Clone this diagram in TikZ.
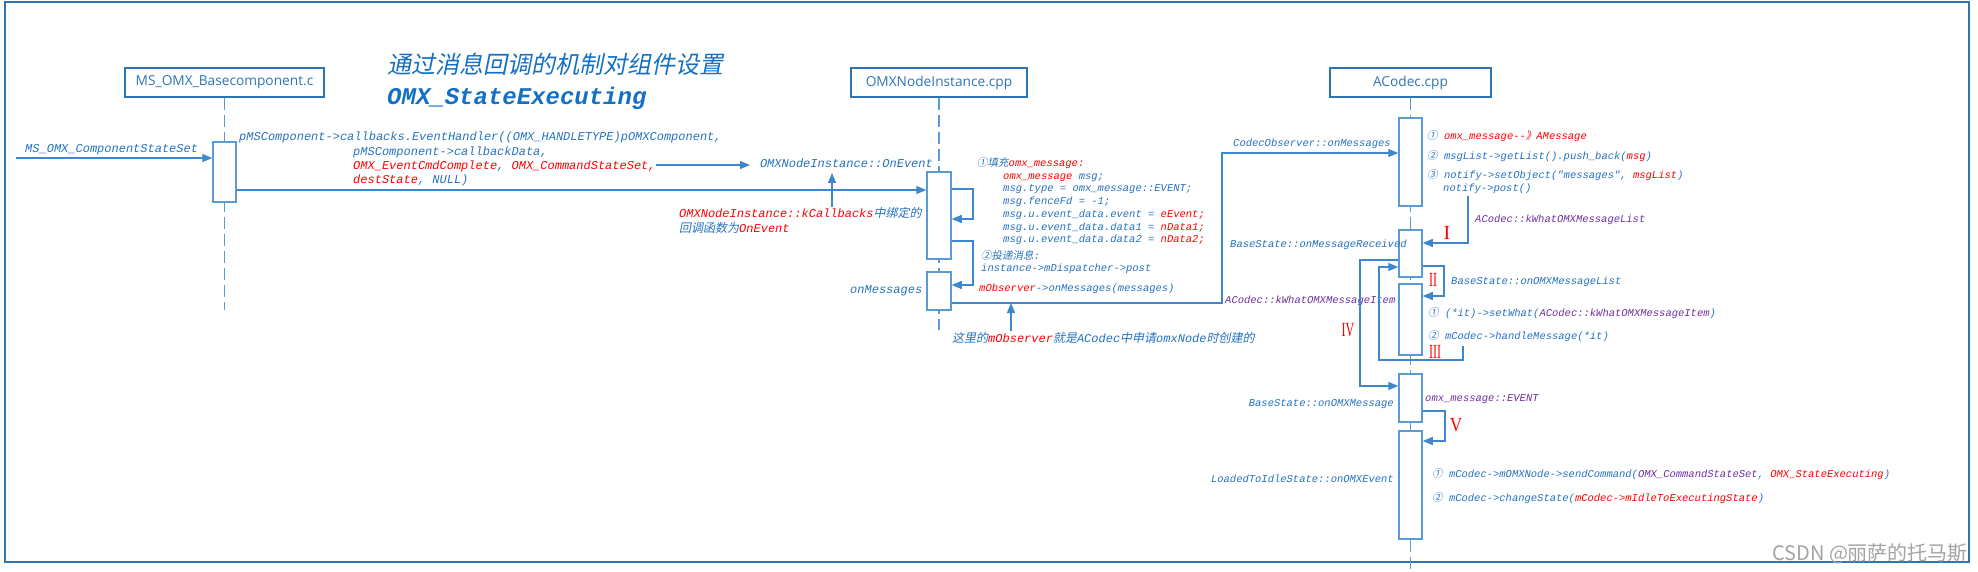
\documentclass[tikz,border=0pt]{standalone}
\usepackage{fontspec}
\usepackage{graphicx}
\setmainfont{Liberation Sans}
\newfontfamily\monof{Liberation Mono}
\newfontfamily\cjkf{Noto Sans CJK SC}
\newfontfamily\cjkif{Noto Sans CJK SC}[FakeSlant=0.2]
\newfontfamily\hdrf{Open Sans}
\newfontfamily\romf{Liberation Serif}
\usetikzlibrary{arrows.meta}
\definecolor{frameblue}{HTML}{2E75B6}
\definecolor{lineblue}{HTML}{3C87CD}
\definecolor{lightblue}{HTML}{5B9BD5}
\definecolor{codeblue}{HTML}{2472C0}
\definecolor{titleblue}{HTML}{1570C4}
\definecolor{cred}{HTML}{FF0000}
\definecolor{cpurple}{HTML}{7030A0}
\definecolor{wmgray}{HTML}{A3A3A3}
\newcommand{\smallcode}{\monof\itshape\fontsize{10.5}{12}\selectfont}
\newcommand{\bigcode}{\monof\itshape\fontsize{12}{14}\selectfont}
\newcommand{\zhtxt}[1]{{\cjkif #1}}
\newcommand{\redtxt}[1]{\textcolor{cred}{#1}}
\newcommand{\purtxt}[1]{\textcolor{cpurple}{#1}}
\tikzset{
  hdr/.style={draw=frameblue, line width=1.3pt, text=frameblue, font=\hdrf\fontsize{13.7}{16}\selectfont, inner sep=0pt},
  life/.style={draw=lightblue, line width=1.8pt, dash pattern=on 12pt off 5pt},
  act/.style={draw=lightblue, line width=1.5pt, fill=white, inner sep=0pt, minimum width=23pt},
  conn/.style={draw=lineblue, line width=1.3pt, -{Triangle[length=10pt,width=8pt]}},
  lbl/.style={inner sep=0pt, anchor=base west},
  sc/.style={lbl, text=codeblue, font=\smallcode},
  bc/.style={lbl, text=codeblue, font=\bigcode},
  num/.style={inner sep=0pt, text=cred, font=\romf\fontsize{20}{20}\selectfont},
}
\begin{document}
\begin{tikzpicture}[x=1pt,y=-1pt]
\useasboundingbox (0,0) rectangle (1978,572);
\draw[draw=frameblue, line width=1.5pt] (5,2) rectangle (1969,562);

% headers
\node[hdr, minimum width=199pt, minimum height=29pt] (h1) at (224.5,82.5) {MS\_OMX\_Basecomponent.c};
\node[hdr, minimum width=176pt, minimum height=29pt] (h2) at (939,82.5) {OMXNodeInstance.cpp};
\node[hdr, minimum width=161pt, minimum height=29pt] (h3) at (1410.5,82.5) {ACodec.cpp};

% lifelines
\coordinate (e1) at (224.5,310);
\coordinate (e2) at (939,330);
\coordinate (e3) at (1410.5,572);
\draw[life] (h1.south) -- (e1);
\draw[life] (h2.south) -- (e2);
\draw[life] (h3.south) -- (e3);

% activations
\node[act, minimum height=60pt] (a1) at (224.5,172) {};
\node[act, minimum width=24pt, minimum height=87pt] (a2) at (939,215.5) {};
\node[act, minimum width=24pt, minimum height=38pt] (a3) at (939,291) {};
\node[act, minimum height=88pt] (b1) at (1410.5,162) {};
\node[act, minimum height=47pt] (b2) at (1410.5,253.5) {};
\node[act, minimum height=71pt] (b3) at (1410.5,319.5) {};
\node[act, minimum height=48pt] (b4) at (1410.5,398) {};
\node[act, minimum height=108pt] (b5) at (1410.5,485) {};

% title
\node[lbl, text=titleblue, font=\cjkif\fontsize{24}{24}\selectfont] (title1) at (387,74) {通过消息回调的机制对组件设置};
\node[lbl, text=titleblue, font=\monof\bfseries\itshape\fontsize{24}{24}\selectfont] (title2) at (387,105) {OMX\_StateExecuting};

% left column texts
\node[bc] (lSet) at (25,153) {MS\_OMX\_ComponentStateSet};
\node[bc] (cl1) at (239,141) {pMSComponent->callbacks.EventHandler((OMX\_HANDLETYPE)pOMXComponent,};
\node[bc] (cl2) at (353,156) {pMSComponent->callbackData,};
\node[bc] (cl3) at (353,170) {\redtxt{OMX\_EventCmdComplete}, \redtxt{OMX\_CommandStateSet,}};
\node[bc] (cl4) at (353,184) {\redtxt{destState}, NULL)};
\node[bc, outer xsep=10pt] (lOnEv) at (750,168) {OMXNodeInstance::OnEvent};
\node[bc] (lKcb) at (679,218) {\redtxt{OMXNodeInstance::kCallbacks}\zhtxt{中绑定的}};
\node[bc] (lKcb2) at (679,233) {\zhtxt{回调函数为}\redtxt{OnEvent}};
\node[bc] (lOnMsg) at (850,293) {onMessages};
\node[bc] (lNote) at (952,342) {\zhtxt{这里的}\redtxt{mObserver}\zhtxt{就是}ACodec\zhtxt{中申请}omxNode\zhtxt{时创建的}};

% OMXNodeInstance code block
\node[sc] (m1) at (977,166.7) {\zhtxt{①填充}\redtxt{omx\_message:}};
\node[sc] (m2) at (1003,179.7) {\redtxt{omx\_message} msg;};
\node[sc] (m3) at (1003,191.7) {msg.type = omx\_message::EVENT;};
\node[sc] (m4) at (1003,204.7) {msg.fenceFd = -1;};
\node[sc] (m5) at (1003,217.7) {msg.u.event\_data.event = \redtxt{eEvent;}};
\node[sc] (m6) at (1003,230.7) {msg.u.event\_data.data1 = \redtxt{nData1;}};
\node[sc] (m7) at (1003,242.7) {msg.u.event\_data.data2 = \redtxt{nData2;}};
\node[sc] (m8) at (981,259.7) {\zhtxt{②投递消息}:};
\node[sc] (m9) at (981,271.7) {instance->mDispatcher->post};
\node[sc] (m10) at (979,291.7) {\redtxt{mObserver}->onMessages(messages)};

% ACodec texts
\node[sc] (lCO) at (1233,146.7) {CodecObserver::onMessages};
\node[sc] (k1) at (1427,139.7) {\zhtxt{①} \redtxt{omx\_message-{}-\zhtxt{》}AMessage}};
\node[sc] (k2) at (1427,159.7) {\zhtxt{②} msgList->getList().push\_back(\redtxt{msg})};
\node[sc] (k3) at (1427,178.7) {\zhtxt{③} notify->setObject("messages", \redtxt{msgList})};
\node[sc] (k4) at (1443,191.7) {notify->post()};
\node[sc, text=cpurple] (k5) at (1475,222.7) {ACodec::kWhatOMXMessageList};
\node[sc] (k6) at (1230,247.7) {BaseState::onMessageReceived};
\node[sc] (k7) at (1451,284.7) {BaseState::onOMXMessageList};
\node[sc, text=cpurple] (k8) at (1225,303.7) {ACodec::kWhatOMXMessageItem};
\node[sc] (k9) at (1428,316.7) {\zhtxt{①} (*it)->setWhat(\purtxt{ACodec::kWhatOMXMessageItem})};
\node[sc] (k10) at (1428,339.7) {\zhtxt{②} mCodec->handleMessage(*it)};
\node[sc, anchor=base east] (k11) at (1394,406.7) {BaseState::onOMXMessage};
\node[sc, text=cpurple] (k12) at (1425,401.7) {omx\_message::EVENT};
\node[sc, anchor=base east] (k13) at (1394,482.7) {LoadedToIdleState::onOMXEvent};
\node[sc] (k14) at (1432,477.7) {\zhtxt{①} mCodec->mOMXNode->sendCommand(\purtxt{OMX\_CommandStateSet}, \redtxt{OMX\_StateExecuting})};
\node[sc] (k15) at (1432,501.7) {\zhtxt{②} mCodec->changeState(\redtxt{mCodec->mIdleToExecutingState})};

% roman numerals
\node[num] (r1) at (1447,233) {I};
\node[num] (r2) at (1433,280) {\scalebox{0.6}[1]{II}};
\node[num] (r3) at (1435,352) {\scalebox{0.6}[1]{III}};
\node[num] (r4) at (1348,330) {\scalebox{0.6}[1]{IV}};
\node[num] (r5) at (1456,425) {\scalebox{0.86}[1]{V}};

% connectors
\coordinate (in0) at (16,158);
\draw[conn] (in0) -- (a1.west |- in0);
\draw[conn] (a1.east |- 0,190) -- (a2.west |- 0,190);
\draw[conn] (cl3.east |- 0,165) -- (lOnEv.west |- 0,165);
\coordinate (kcTop) at (832,207);
\coordinate (oeBot) at (832,173);
\draw[conn] (kcTop) -- (oeBot);
\draw[conn] (a2.east |- 0,189) -- (973,189) -- (973,219) -- (a2.east |- 0,219);
\draw[conn] (a2.east |- 0,241) -- (973,241) -- (973,285) -- (a3.east |- 0,285);
\draw[conn] (a3.east |- 0,303) -- (1222,303) -- (1222,153) -- (b1.west |- 0,153);
\coordinate (ntTop) at (1011,331);
\coordinate (ntTip) at (1011,303);
\draw[conn] (ntTop) -- (ntTip);
\coordinate (np) at (1468,196);
\draw[conn] (np) -- (1468,243) -- (b2.east |- 0,243);
\draw[conn] (b2.east |- 0,266) -- (1444,266) -- (1444,296) -- (b3.east |- 0,296);
\coordinate (hm) at (1463,346);
\draw[conn] (hm) -- (1463,360) -- (1379,360) -- (1379,267) -- (b2.west |- 0,267);
\draw[conn] (b2.west |- 0,260) -- (1360,260) -- (1360,386) -- (b4.west |- 0,386);
\draw[conn] (b4.east |- 0,411) -- (1445,411) -- (1445,441) -- (b5.east |- 0,441);

% watermark
\node[lbl, text=wmgray, font=\cjkf\fontsize{20}{20}\selectfont] (wm) at (1772,560) {CSDN @丽萨的托马斯};
\end{tikzpicture}
\end{document}
